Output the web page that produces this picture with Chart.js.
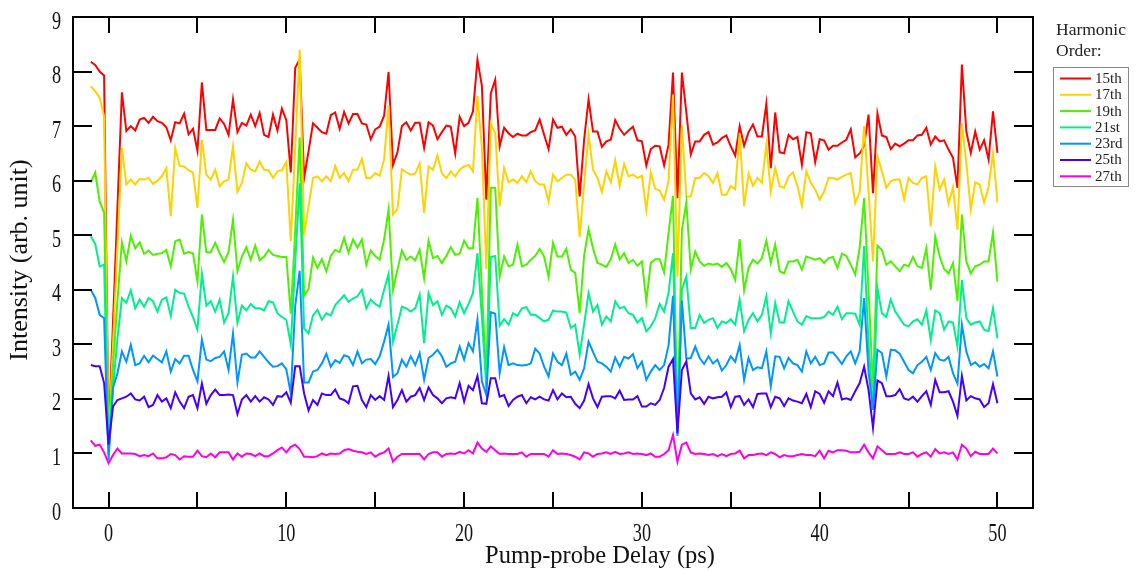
<!DOCTYPE html>
<html><head><meta charset="utf-8">
<script src="https://cdn.jsdelivr.net/npm/chart.js@4.4.1/dist/chart.umd.min.js"></script>
<style>html,body{margin:0;padding:0;background:#fff}#wrap{width:1136px;height:571px;position:relative}</style>
</head><body><div id="wrap"><canvas id="c" width="1136" height="571"></canvas></div>
<script>
// Pump-probe delay grid (ps): first sample and sampling step
const delayStart = -1;
const delayStep = 0.25;

// Harmonic intensities (arb. unit); each line = one ps (4 samples)
const h15 = [
8.18,8.12,8.0,7.93,
1.3,3.4,5.5,7.62,
6.91,7.0,6.92,7.12,
7.15,7.06,7.17,7.09,
7.06,6.98,6.74,7.07,
7.05,7.23,6.85,6.95,
6.55,7.8,6.93,6.93,
6.93,7.14,7.04,6.84,
7.49,6.89,7.06,7.01,
7.21,7.0,7.24,6.84,
6.8,7.21,6.92,7.32,
7.11,6.15,8.07,8.22,
6.05,6.54,7.05,6.97,
6.89,6.86,7.2,7.25,
6.95,7.26,7.05,7.22,
7.22,7.05,7.03,6.76,
6.94,6.99,7.19,7.99,
6.29,6.52,7.0,7.07,
6.92,7.06,7.06,6.6,
7.07,7.01,6.76,6.89,
7.01,6.99,6.5,7.17,
7.0,7.06,7.27,8.22,
7.74,5.65,7.6,7.85,
6.63,6.97,6.87,6.8,
6.86,6.83,6.83,6.89,
6.92,7.12,6.84,6.58,
7.12,6.97,6.99,6.84,
6.94,6.81,5.71,6.75,
7.49,6.9,6.9,6.62,
6.72,6.75,7.11,6.95,
6.84,6.92,6.99,6.74,
6.72,6.28,6.58,6.64,
6.63,6.28,6.66,7.98,
5.68,7.98,7.25,6.48,
6.72,6.72,6.84,6.89,
6.66,6.7,6.78,6.83,
6.63,6.46,7.0,6.64,
6.89,7.03,6.81,6.81,
7.41,6.23,7.25,6.52,
6.5,6.84,6.76,6.8,
6.29,6.89,6.87,6.34,
6.76,6.74,6.57,6.64,
6.64,6.7,6.75,6.94,
6.43,6.5,6.64,7.21,
5.77,7.23,6.83,6.8,
6.58,6.68,6.63,6.68,
6.74,6.74,6.83,6.84,
6.97,6.66,6.81,6.72,
6.74,6.57,6.42,5.87,
8.13,6.9,6.51,6.9,
6.57,6.74,6.39,7.27,
6.51];

const h17 = [
7.73,7.64,7.52,7.18,
1.2,3.0,4.8,6.6,
5.93,6.02,5.93,6.03,
6.02,6.05,5.94,6.0,
6.08,6.23,5.35,6.6,
6.27,6.26,6.19,6.15,
5.5,6.75,6.11,6.02,
6.2,5.9,5.99,6.02,
6.63,5.8,5.96,6.32,
6.2,6.17,6.35,6.2,
6.19,6.05,6.17,6.19,
6.34,4.89,6.6,8.4,
5.01,5.53,6.05,6.08,
5.99,6.08,5.99,6.27,
6.05,6.14,5.99,6.2,
6.2,6.4,6.05,6.05,
6.14,6.09,6.39,7.38,
5.38,5.48,6.21,6.15,
6.11,6.13,6.32,5.41,
6.26,6.2,6.46,6.13,
6.05,6.17,6.08,6.2,
6.26,6.29,6.17,7.55,
6.6,4.38,7.05,6.87,
5.53,6.23,5.97,6.02,
5.96,6.08,5.97,6.17,
5.99,5.93,5.93,5.62,
6.11,5.99,6.05,6.11,
6.11,6.02,4.97,5.93,
6.84,6.2,6.05,5.79,
6.17,5.97,6.37,5.9,
6.31,6.08,6.11,6.05,
6.09,5.46,6.15,5.85,
5.82,5.65,5.99,7.58,
4.24,7.01,5.71,5.71,
6.05,6.05,6.14,6.08,
5.96,6.14,5.74,5.74,
5.9,5.84,6.87,5.53,
6.13,5.91,6.05,5.96,
6.66,5.8,6.23,5.9,
5.87,6.08,6.15,5.9,
5.54,6.17,5.96,5.84,
5.65,5.8,6.05,6.05,
6.02,6.07,6.11,6.14,
5.59,5.79,7.0,5.8,
4.52,6.45,6.17,5.87,
5.99,6.02,6.02,5.66,
6.05,5.96,5.93,6.05,
6.08,5.16,6.26,5.84,
6.02,5.58,5.88,5.1,
7.05,6.32,5.47,5.97,
5.93,5.6,5.88,6.51,
5.6];

const h19 = [
5.97,6.15,5.62,5.41,
1.1,2.6,3.8,4.87,
4.52,4.99,4.76,4.87,
4.66,4.72,4.64,4.66,
4.67,4.73,4.43,4.89,
4.92,4.66,4.69,4.67,
4.15,5.38,4.69,4.69,
4.86,4.67,4.51,4.69,
5.28,4.34,4.61,4.78,
4.55,4.81,4.54,4.61,
4.73,4.64,4.62,4.6,
4.6,3.56,5.1,6.79,
3.89,4.01,4.59,4.4,
4.56,4.34,4.62,4.73,
4.69,4.95,4.68,4.92,
4.77,4.92,4.46,4.72,
4.62,4.55,4.92,5.47,
4.0,4.37,4.72,4.55,
4.61,4.54,4.73,4.21,
4.9,4.58,4.62,4.49,
4.62,4.78,4.64,4.66,
4.9,4.76,4.76,5.68,
4.0,2.4,5.87,5.87,
4.24,4.61,4.43,4.46,
4.83,4.43,4.46,4.55,
4.62,4.75,4.61,4.24,
4.86,4.61,4.61,4.75,
4.37,4.31,3.57,4.62,
5.11,4.76,4.49,4.46,
4.42,4.56,4.83,4.56,
4.67,4.49,4.55,4.44,
4.52,3.79,4.49,4.56,
4.56,4.32,5.04,5.72,
1.5,5.1,5.6,4.37,
4.7,4.52,4.44,4.48,
4.46,4.48,4.42,4.49,
4.38,4.18,4.93,3.99,
4.4,4.55,4.48,4.58,
4.9,4.49,4.83,4.34,
4.3,4.52,4.52,4.55,
4.37,4.61,4.58,4.55,
4.58,4.49,4.58,4.6,
4.4,4.66,4.62,4.46,
4.28,4.77,5.68,4.0,
2.2,4.81,4.73,4.46,
4.52,4.43,4.34,4.46,
4.43,4.6,4.43,4.4,
4.76,4.0,4.97,4.61,
4.38,4.3,4.49,3.79,
5.38,4.52,4.3,4.43,
4.46,4.52,4.52,5.05,
4.15];

const h21 = [
4.98,4.84,4.43,4.46,
1.0,2.2,3.1,3.85,
3.76,3.99,3.66,3.82,
3.69,3.85,3.79,3.6,
3.82,3.86,3.52,4.0,
3.94,3.93,3.69,3.5,
3.27,4.29,3.71,3.79,
3.6,3.82,3.4,3.57,
4.24,3.39,3.71,3.62,
3.74,3.66,3.66,3.62,
3.79,3.77,3.57,3.5,
3.45,3.0,4.5,5.95,
3.29,3.2,3.53,3.63,
3.45,3.57,3.53,3.72,
3.81,3.9,3.78,3.84,
3.88,4.0,3.66,3.82,
3.74,3.69,4.0,4.29,
3.05,3.36,3.69,3.66,
3.6,3.66,3.91,3.02,
3.94,3.72,3.79,3.54,
3.71,3.66,3.51,3.77,
3.57,3.74,3.94,4.67,
3.5,2.2,4.6,4.62,
3.34,3.46,3.36,3.57,
3.52,3.66,3.68,3.54,
3.54,3.48,3.42,3.45,
3.62,3.6,3.6,3.58,
3.3,3.36,2.81,3.36,
3.94,3.6,3.72,3.36,
3.51,3.42,3.79,3.66,
3.69,3.57,3.54,3.4,
3.48,3.24,3.33,3.48,
3.74,3.6,3.94,4.67,
1.45,4.0,4.24,3.3,
3.3,3.54,3.39,3.45,
3.48,3.3,3.42,3.39,
3.46,3.36,3.82,3.24,
3.45,3.57,3.42,3.54,
3.88,3.2,3.76,3.4,
3.4,3.79,3.6,3.42,
3.36,3.52,3.48,3.48,
3.48,3.5,3.6,3.54,
3.69,3.46,3.57,3.57,
3.56,3.36,4.8,3.0,
1.8,4.03,3.57,3.5,
3.82,3.6,3.48,3.36,
3.33,3.42,3.46,3.36,
3.62,3.08,3.62,3.57,
3.27,3.42,3.4,2.96,
4.18,3.48,3.36,3.4,
3.42,3.27,3.24,3.66,
3.11];

const h23 = [
4.0,3.85,3.54,3.48,
0.88,2.2,2.47,2.87,
2.68,2.99,2.62,2.65,
2.79,2.67,2.79,2.73,
2.67,2.87,2.5,2.73,
2.65,2.79,2.79,2.53,
2.32,3.09,2.72,2.69,
2.75,2.77,2.87,2.53,
3.2,2.3,2.81,2.83,
2.76,2.76,2.87,2.77,
2.67,2.59,2.6,2.65,
2.54,2.1,3.7,4.35,
2.3,2.3,2.5,2.53,
2.65,2.83,2.59,2.71,
2.66,2.8,2.77,2.62,
2.87,2.65,2.72,2.73,
2.64,2.78,3.05,3.36,
2.4,2.47,2.72,2.59,
2.78,2.62,2.84,2.35,
2.75,2.81,2.9,2.78,
2.59,2.65,2.68,2.96,
2.72,3.02,2.87,3.45,
2.32,2.07,3.59,3.56,
2.47,2.95,2.62,2.65,
2.62,2.61,2.62,2.65,
2.92,2.83,2.59,2.41,
2.83,2.68,2.62,2.83,
2.44,2.5,2.35,2.56,
3.05,2.86,2.68,2.65,
2.59,2.5,2.76,2.59,
2.77,2.74,2.82,2.56,
2.68,2.35,2.5,2.62,
2.53,2.62,2.98,3.89,
1.32,3.8,2.74,2.75,
2.96,2.75,2.64,2.78,
2.65,2.72,2.52,2.62,
2.78,2.68,2.99,2.35,
2.75,2.53,2.58,2.56,
2.87,2.23,2.78,2.77,
2.56,2.75,2.65,2.62,
2.5,2.87,2.65,2.77,
2.62,2.65,2.85,2.85,
2.75,2.64,2.78,2.87,
2.65,2.87,3.85,2.5,
1.8,2.9,2.84,2.41,
2.9,2.89,2.83,2.68,
2.53,2.47,2.62,2.68,
2.77,2.53,2.84,2.72,
2.7,2.77,2.47,2.28,
3.36,2.87,2.62,2.67,
2.59,2.64,2.56,2.87,
2.41];

const h25 = [
2.62,2.6,2.6,2.29,
1.16,1.86,1.98,2.01,
2.04,2.1,1.99,1.97,
2.04,1.85,1.89,2.07,
1.95,2.01,1.83,2.12,
1.95,1.83,2.04,2.07,
1.83,2.28,1.91,2.07,
2.17,2.07,2.07,2.08,
2.07,1.72,1.99,2.07,
1.95,2.05,1.95,2.03,
1.99,1.89,2.05,2.04,
2.12,1.93,2.6,2.6,
2.1,1.79,1.98,1.89,
2.1,2.07,2.07,2.17,
2.01,1.98,1.92,2.23,
2.24,1.98,1.85,2.07,
1.98,2.05,1.98,2.42,
1.85,1.98,2.16,1.95,
2.04,2.07,2.2,1.98,
2.21,2.07,2.01,1.92,
2.01,2.03,2.01,2.29,
1.95,2.24,2.16,2.42,
1.92,1.91,2.38,2.38,
2.04,2.07,1.87,1.98,
2.04,2.07,1.92,2.03,
1.99,2.04,1.99,1.97,
2.16,1.99,2.1,2.03,
2.04,1.91,1.83,1.97,
2.27,2.01,1.85,2.04,
2.05,2.05,2.01,2.15,
1.98,1.99,1.99,2.05,
1.86,1.86,1.92,1.89,
1.98,2.2,2.59,2.73,
1.37,2.53,2.69,2.1,
1.99,2.03,1.91,2.04,
2.01,2.03,2.04,2.12,
1.85,2.04,2.05,1.89,
1.99,1.85,2.09,2.1,
2.1,1.85,2.04,2.01,
1.87,2.01,1.97,1.95,
1.92,2.09,1.85,2.14,
2.09,1.93,2.14,2.05,
2.3,1.99,2.01,1.98,
2.14,2.29,2.59,2.16,
1.47,2.34,2.29,2.05,
2.05,2.07,2.18,2.01,
1.98,2.04,1.95,2.05,
2.14,1.89,2.35,2.12,
2.12,2.14,1.95,1.69,
2.42,1.97,2.05,2.01,
1.99,1.85,1.92,2.27,
1.92];

const h27 = [
1.24,1.14,1.16,1.02,
0.82,0.97,1.09,1.0,
1.0,1.0,0.99,0.95,
0.97,0.95,1.0,0.91,
0.91,0.93,0.99,0.97,
0.89,0.95,0.94,0.94,
1.05,0.95,0.93,1.0,
0.93,1.02,1.02,1.02,
0.89,1.0,0.94,1.0,
0.99,0.95,1.0,0.95,
0.95,1.0,1.06,1.11,
1.02,1.12,1.16,1.08,
0.94,0.94,0.93,0.95,
1.0,0.97,1.0,0.99,
1.0,1.06,1.08,1.05,
1.03,1.02,0.99,1.02,
0.94,0.99,1.02,1.09,
0.85,0.94,0.99,0.99,
0.99,0.99,0.99,0.89,
0.99,1.02,1.02,0.94,
0.99,1.0,0.99,1.03,
1.0,1.06,1.0,1.2,
1.09,1.03,1.13,1.06,
0.99,1.0,0.99,0.99,
0.99,1.02,0.94,0.99,
0.99,0.99,0.99,0.94,
1.06,0.99,1.0,0.99,
0.97,0.94,0.89,1.02,
1.0,0.94,0.99,1.0,
1.02,0.99,1.03,0.99,
1.0,1.02,0.99,1.0,
0.99,0.97,1.0,0.94,
0.94,0.99,1.06,1.34,
0.85,1.16,1.2,1.02,
0.99,1.0,0.99,0.97,
0.99,0.95,0.99,0.95,
0.99,1.0,1.05,0.91,
0.97,0.97,0.99,1.0,
0.97,1.02,0.99,0.93,
0.97,0.95,0.95,0.97,
0.99,0.97,0.97,0.95,
1.05,0.91,1.05,1.02,
1.06,1.06,1.05,1.02,
1.02,1.03,1.16,1.02,
0.91,1.13,1.06,0.99,
0.99,0.99,1.02,0.99,
0.99,1.02,0.94,0.99,
1.02,0.94,1.08,1.0,
1.02,0.99,1.02,0.89,
1.16,1.09,0.95,1.03,
0.99,0.99,0.99,1.09,
1.0];

const seriesLabels = ['15th','17th','19th','21st','23rd','25th','27th'];
const seriesValues = [h15,h17,h19,h21,h23,h25,h27];
const seriesColors = ['#ff0000','#ffd200','#4cf000','#00ee8c','#0096ff','#4400ff','#ff00e6'];

const xMajorTicks = [0,10,20,30,40,50];
const xMinorTicks = [5,15,25,35,45];
const yTicks = [0,1,2,3,4,5,6,7,8,9];
const legendTitle = ['Harmonic','Order:'];
const xTitle = 'Pump-probe Delay (ps)';
const yTitle = 'Intensity (arb. unit)';

const FONT = '"Liberation Serif","Times New Roman",serif';

const datasets = seriesValues.map((vals,si)=>({
  label: seriesLabels[si],
  data: vals.map((v,i)=>({x: delayStart + i*delayStep, y: v})),
  borderColor: seriesColors[si],
  backgroundColor: seriesColors[si],
  borderWidth: 2,
  pointRadius: 0,
  tension: 0,
  order: seriesValues.length - si
}));

const frameTicks = {
  id: 'frameTicks',
  afterDatasetsDraw(chart){
    const {ctx, chartArea:a, scales:{x,y}} = chart;
    ctx.save();
    ctx.strokeStyle = '#000';
    ctx.lineWidth = 2;
    ctx.beginPath();
    [...xMajorTicks, ...xMinorTicks].forEach(v=>{
      const px = Math.round(x.getPixelForValue(v));
      ctx.moveTo(px, a.bottom); ctx.lineTo(px, a.bottom-16);
      ctx.moveTo(px, a.top); ctx.lineTo(px, a.top+16);
    });
    yTicks.forEach(v=>{
      const py = Math.round(y.getPixelForValue(v));
      ctx.moveTo(a.left, py); ctx.lineTo(a.left+19, py);
      ctx.moveTo(a.right, py); ctx.lineTo(a.right-19, py);
    });
    ctx.stroke();
    ctx.strokeRect(a.left, a.top, a.right-a.left, a.bottom-a.top);
    ctx.restore();
  }
};

const axisText = {
  id: 'axisText',
  afterDraw(chart){
    const {ctx, scales:{x,y}} = chart;
    ctx.save();
    ctx.fillStyle = '#111';
    ctx.textBaseline = 'alphabetic';
    ctx.font = '24px ' + FONT;
    xMajorTicks.forEach(v=>{
      ctx.save();
      ctx.translate(x.getPixelForValue(v), 540.5);
      ctx.scale(0.76, 1.08);
      ctx.textAlign = 'center';
      ctx.fillText(String(v), 0, 0);
      ctx.restore();
    });
    yTicks.forEach(v=>{
      ctx.save();
      ctx.translate(61, y.getPixelForValue(v) + 3 + 8.5);
      ctx.scale(0.76, 1.08);
      ctx.textAlign = 'right';
      ctx.fillText(String(v), 0, 0);
      ctx.restore();
    });
    ctx.textBaseline = 'middle';
    ctx.textAlign = 'center';
    ctx.font = '24.5px ' + FONT;
    ctx.fillText(xTitle, 600, 557);
    ctx.save();
    ctx.translate(20, 260);
    ctx.rotate(-Math.PI/2);
    ctx.font = '26px ' + FONT;
    ctx.fillText(yTitle, 0, 0);
    ctx.restore();
    ctx.restore();
  }
};

const boxLegend = {
  id: 'boxLegend',
  afterDraw(chart){
    const ctx = chart.ctx;
    ctx.save();
    ctx.fillStyle = '#222';
    ctx.textBaseline = 'middle';
    ctx.textAlign = 'left';
    ctx.font = '17.5px ' + FONT;
    ctx.fillText(legendTitle[0], 1056, 30);
    ctx.fillText(legendTitle[1], 1056, 51);
    ctx.strokeStyle = '#888';
    ctx.lineWidth = 1;
    ctx.strokeRect(1053.5, 67.5, 75, 119);
    ctx.font = '15px ' + FONT;
    seriesLabels.forEach((lab,i)=>{
      const yy = 78.5 + i*16.3;
      ctx.strokeStyle = seriesColors[i];
      ctx.lineWidth = 2;
      ctx.beginPath(); ctx.moveTo(1060, yy); ctx.lineTo(1091, yy); ctx.stroke();
      ctx.fillStyle = '#222';
      ctx.fillText(lab, 1095, yy+0.5);
    });
    ctx.restore();
  }
};

new Chart(document.getElementById('c'), {
  type: 'line',
  data: { datasets },
  options: {
    responsive: false,
    animation: false,
    devicePixelRatio: 1,
    layout: { padding: { left: 0, right: 103, top: 17, bottom: 0 } },
    plugins: { legend: { display: false }, tooltip: { enabled: false } },
    scales: {
      x: {
        type: 'linear', min: -2, max: 52,
        afterBuildTicks: s => { s.ticks = xMajorTicks.map(v=>({value:v})); },
        afterFit: s => { s.height = 63; s.paddingLeft = 0; s.paddingRight = 0; },
        grid: { display: false, drawTicks: false },
        border: { display: false },
        ticks: { display: false },
        title: { display: false }
      },
      y: {
        type: 'linear', min: 0, max: 9,
        afterBuildTicks: s => { s.ticks = yTicks.map(v=>({value:v})); },
        afterFit: s => { s.width = 73; s.paddingTop = 0; s.paddingBottom = 0; },
        grid: { display: false, drawTicks: false },
        border: { display: false },
        ticks: { display: false },
        title: { display: false }
      }
    }
  },
  plugins: [frameTicks, axisText, boxLegend]
});
</script>
</body></html>
